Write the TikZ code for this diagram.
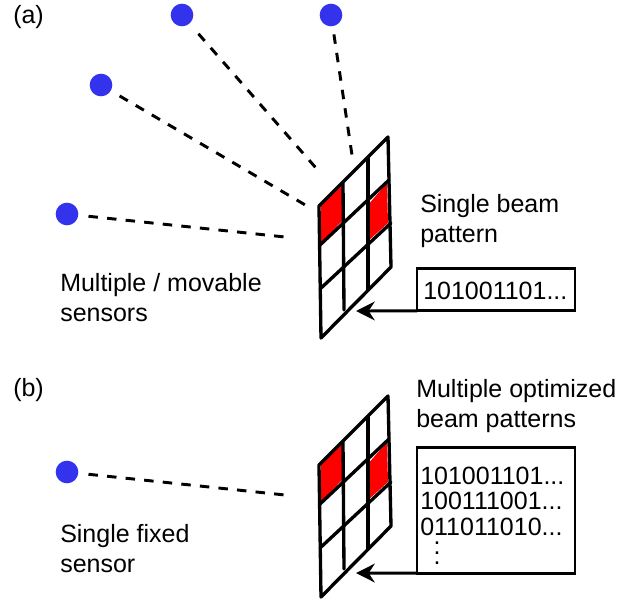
\documentclass[tikz,border=0pt]{standalone}
\usepackage{fontspec}
\setmainfont{Liberation Sans}
\usetikzlibrary{arrows.meta}
\definecolor{sensorblue}{RGB}{51,51,238}
\tikzset{
  sensor/.style={circle,fill=sensorblue,minimum size=17pt,inner sep=0pt},
  beamline/.style={line width=2.2pt,dash pattern=on 7.1pt off 6.9pt},
  gridline/.style={line width=2.5pt,line cap=round,line join=round},
  patbox/.style={draw,line width=2.2pt,minimum width=118.5pt,inner sep=0pt,outer sep=0pt},
  txt/.style={anchor=north west,inner sep=0pt,align=left,font=\fontsize{18.75}{22.5}\selectfont},
  feed/.style={-{Stealth[length=14pt,width=14pt,inset=4.5pt]},line width=2.2pt}
}
\begin{document}
\begin{tikzpicture}[x=0.75pt,y=-0.75pt]
  \useasboundingbox (0,0) rectangle (636,601);
  % the two panels share one array
  \foreach \yoff in {0,259}{
    \begin{scope}[shift={(0,\yoff)}]
      \fill[red] (321,205) -- (342,185) -- (342,221) -- (321,243) -- cycle;
      \fill[red] (367,206) -- (387,183) -- (388,223) -- (367,242) -- cycle;
      \draw[gridline] (319,206) -- (388,137) -- (391,267) -- (321,338) -- cycle;
      \draw[gridline] (320,245) -- (389,180);
      \draw[gridline] (320,289) -- (391,223);
      \draw[gridline] (343,183) -- (344,310);
      \draw[gridline] (368,158) -- (368,290);
    \end{scope}
  }
  % sensors
  \node[sensor] (sensA) at (67,214) {};
  \node[sensor] (sensB) at (101,85) {};
  \node[sensor] (sensC) at (182,15) {};
  \node[sensor] (sensD) at (331,15) {};
  \node[sensor] (sensE) at (67,472) {};
  \coordinate (endA) at (285,237);
  \coordinate (endB) at (307,206);
  \coordinate (endC) at (316,168);
  \coordinate (endD) at (352,155);
  \coordinate (endE) at (285,495);
  \foreach \s/\g in {A/7.5,B/7.5,C/10,D/6,E/7.5}
    \draw[beamline,shorten <=\g pt] (sens\s) -- (end\s);
  % pattern boxes
  \node[patbox,minimum height=32pt] (boxA) at (496,289.5) {};
  \node[patbox,minimum height=94pt] (boxB) at (496,510.5) {};
  \coordinate (tipA) at (356,311);
  \coordinate (tipB) at (356,573);
  \draw[feed] (boxA.south west) -- (tipA);
  \draw[feed] (boxB.south west) -- (tipB);
  % labels
  \node[txt] (codeA) at (423,282) {101001101...};
  \node[txt] (codeB) at (420,467) {101001101...\\[-3.6pt]100111001...\\[-3.6pt]011011010...};
  \node[inner sep=0pt,align=center,font=\fontsize{18.75}{7.5}\selectfont] (dotsB) at (437,553) {.\\.\\.};
  \node[txt] (labA) at (13,5) {(a)};
  \node[txt] (labB) at (13,378) {(b)};
  \node[txt] (txtA) at (60,273) {Multiple / movable\\sensors};
  \node[txt] (txtB) at (420,194) {Single beam\\pattern};
  \node[txt] (txtC) at (416,379) {Multiple optimized\\beam patterns};
  \node[txt] (txtD) at (60,524) {Single fixed\\sensor};
\end{tikzpicture}
\end{document}
